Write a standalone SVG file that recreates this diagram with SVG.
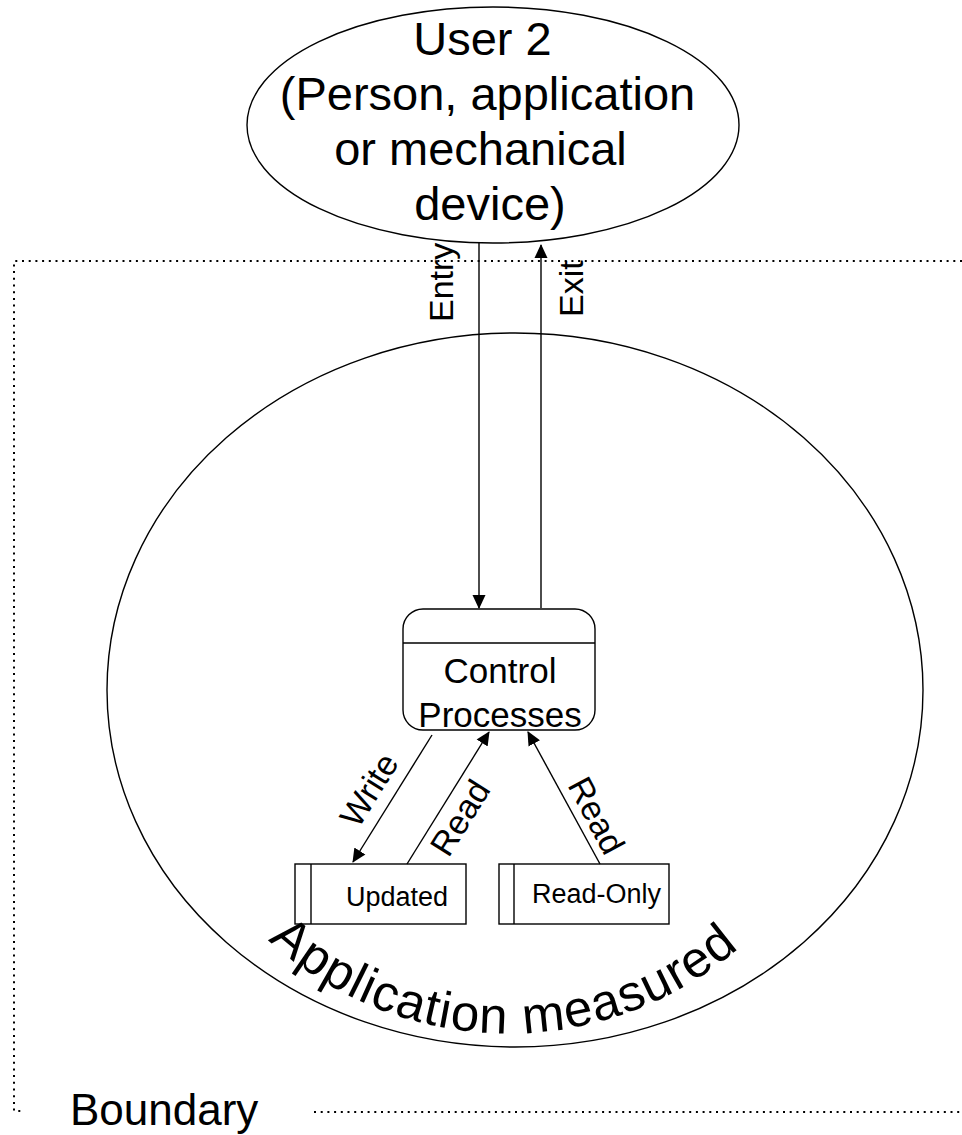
<svg xmlns="http://www.w3.org/2000/svg" width="962" height="1135" viewBox="0 0 962 1135">
<style>
.ln{fill:none;stroke:#000;stroke-width:1.4}
.dot{fill:none;stroke:#000;stroke-width:2;stroke-dasharray:2 4.7}
.t{font-family:"Liberation Sans",Arial,sans-serif;fill:#000}
</style>
<defs>
<marker id="ah" viewBox="0 0 14 14" refX="13" refY="7" markerWidth="14" markerHeight="14" markerUnits="userSpaceOnUse" orient="auto">
<path d="M0,0.5 L14,7 L0,13.5 Z" fill="#000"/>
</marker>
<path id="arc" d="M268,940 A355,355 0 0 0 748,940"/>
</defs>
<rect width="962" height="1135" fill="#fff"/>
<g id="boundary">
<path class="dot" d="M962,261 H14 V1111 H24"/>
<path class="dot" d="M314,1112 H962"/>
<text class="t" x="70" y="1125" font-size="44">Boundary</text>
</g>
<g id="application">
<ellipse class="ln" cx="515" cy="690" rx="408" ry="357"/>
<text class="t" font-size="51"><textPath href="#arc" textLength="515" lengthAdjust="spacing">Application measured</textPath></text>
</g>
<g id="user2">
<ellipse class="ln" cx="493" cy="125" rx="246" ry="118" fill="#fff"/>
<text class="t" font-size="47" text-anchor="middle">
<tspan x="489" y="55">User 2</tspan>
<tspan x="494" y="110">(Person, application</tspan>
<tspan x="487" y="165">or mechanical</tspan>
<tspan x="490" y="220">device)</tspan>
</text>
</g>
<g id="control">
<rect class="ln" x="403" y="609" width="192" height="121" rx="20" fill="#fff"/>
<line class="ln" x1="403" y1="643" x2="595" y2="643"/>
<text class="t" font-size="35" text-anchor="middle"><tspan x="500" y="683">Control</tspan><tspan x="500" y="727">Processes</tspan></text>
</g>
<g id="updated">
<rect class="ln" x="295" y="864" width="171" height="60" fill="#fff"/>
<line class="ln" x1="311" y1="864" x2="311" y2="924"/>
<text class="t" x="346" y="906" font-size="27">Updated</text>
</g>
<g id="readonly">
<rect class="ln" x="499" y="864" width="170" height="60" fill="#fff"/>
<line class="ln" x1="514" y1="864" x2="514" y2="924"/>
<text class="t" x="532" y="903" font-size="27">Read-Only</text>
</g>
<g id="connectors">
<line class="ln" x1="479" y1="243" x2="479" y2="608" marker-end="url(#ah)"/>
<line class="ln" x1="541" y1="608" x2="541" y2="245" marker-end="url(#ah)"/>
<line class="ln" x1="432" y1="735" x2="353" y2="862" marker-end="url(#ah)"/>
<line class="ln" x1="407" y1="864" x2="489" y2="732" marker-end="url(#ah)"/>
<line class="ln" x1="600" y1="864" x2="528" y2="732" marker-end="url(#ah)"/>
<text class="t" font-size="34" transform="translate(453,322) rotate(-90)">Entry</text>
<text class="t" font-size="34" transform="translate(583,317) rotate(-90)">Exit</text>
<text class="t" font-size="34" text-anchor="middle" transform="translate(379,796) rotate(-58)">Write</text>
<text class="t" font-size="34" text-anchor="middle" transform="translate(470,824) rotate(-58)">Read</text>
<text class="t" font-size="34" text-anchor="middle" transform="translate(586,821) rotate(62)">Read</text>
</g>
</svg>
